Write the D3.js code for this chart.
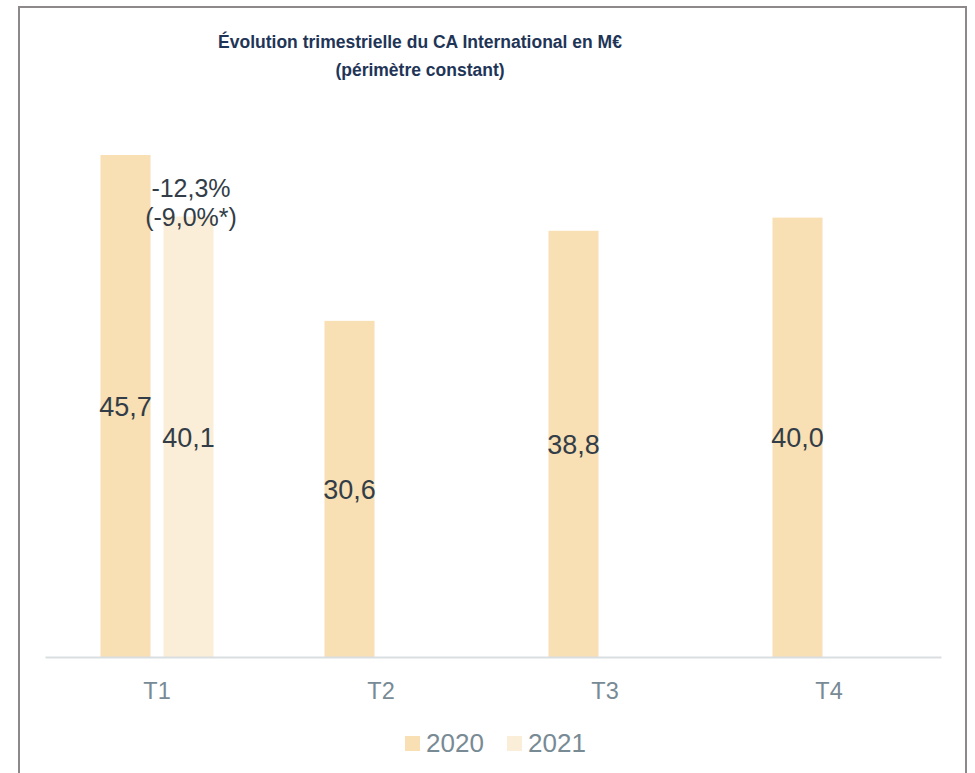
<!DOCTYPE html>
<html>
<head>
<meta charset="utf-8">
<script src="https://cdn.jsdelivr.net/npm/d3@7"></script>
<style>
  body { margin: 0; background: #fff; }
  svg { display: block; font-family: "Liberation Sans", Arial, sans-serif; }
</style>
</head>
<body>
<svg id="chart" width="975" height="773"></svg>
<script>
"use strict";

const quarters = ["T1", "T2", "T3", "T4"];
const years = ["2020", "2021"];
const values2020 = [45.7, 30.6, 38.8, 40.0];
const values2021 = [40.1, null, null, null];
const annotation = ["-12,3%", "(-9,0%*)"];

const colors = { "2020": "#f8dfb4", "2021": "#fbeed9" };

const svg = d3.select("#chart"),
    width = +svg.attr("width"),
    height = +svg.attr("height");

// Frame border (no bottom edge visible).
svg.append("path")
    .attr("d", "M19,773 V7 H966 V773")
    .attr("fill", "none")
    .attr("stroke", "#8d898a")
    .attr("stroke-width", 2);

// Title.
const title = svg.append("text")
    .attr("text-anchor", "middle")
    .attr("fill", "#1f3557")
    .attr("font-weight", "bold")
    .attr("font-size", 17.5);
title.append("tspan").attr("x", 420).attr("y", 48).text("Évolution trimestrielle du CA International en M€");
title.append("tspan").attr("x", 420).attr("y", 76).text("(périmètre constant)");

const margin = { left: 45, right: 34, bottom: 116 },
    baseline = height - margin.bottom;

const x = d3.scaleBand()
    .domain(quarters)
    .range([margin.left, width - margin.right]);

const xSub = d3.scaleBand()
    .domain(years)
    .range([0, 113])
    .paddingInner(0.206);

const y = d3.scaleLinear()
    .domain([0, 45.7])
    .range([baseline, 155]);

const rows = quarters.flatMap((q, i) => [
  { q, year: "2020", v: values2020[i] },
  { q, year: "2021", v: values2021[i] }
]).filter((d) => d.v != null);

const fmt = (v) => v.toFixed(1).replace(".", ",");
const barX = (d) => x(d.q) + (x.bandwidth() - 113) / 2 + xSub(d.year);

svg.append("g")
  .selectAll("rect")
  .data(rows)
  .enter().append("rect")
    .attr("x", barX)
    .attr("y", (d) => y(d.v))
    .attr("width", xSub.bandwidth())
    .attr("height", (d) => baseline - y(d.v))
    .attr("fill", (d) => colors[d.year]);

// Value labels in the middle of each bar.
svg.append("g")
  .selectAll("text")
  .data(rows)
  .enter().append("text")
    .attr("x", (d) => barX(d) + xSub.bandwidth() / 2)
    .attr("y", (d) => (y(d.v) + baseline) / 2 + 10)
    .attr("text-anchor", "middle")
    .attr("font-size", 27)
    .attr("fill", "#333d47")
    .text((d) => fmt(d.v));

// Growth annotation over T1.
const ann = svg.append("text")
    .attr("text-anchor", "middle")
    .attr("font-size", 25)
    .attr("fill", "#333d47");
annotation.forEach((t, i) => {
  ann.append("tspan")
      .attr("x", x("T1") + x.bandwidth() / 2 + 34)
      .attr("y", 197 + i * 29)
      .text(t);
});

// X axis.
const xAxis = svg.append("g")
    .attr("transform", "translate(0," + baseline + ")")
    .call(d3.axisBottom(x).tickSize(0).tickPadding(25));
xAxis.select(".domain").attr("stroke", "#d9dee1").attr("stroke-width", 2);
xAxis.selectAll("text")
    .attr("font-family", "Liberation Sans, Arial, sans-serif")
    .attr("font-size", 23.5)
    .attr("fill", "#788a94");

// Legend.
const legend = svg.append("g")
    .selectAll("g")
    .data(years)
    .enter().append("g")
    .attr("transform", (d, i) => "translate(" + (405 + i * 102) + ",736)");
legend.append("rect")
    .attr("width", 15)
    .attr("height", 15)
    .attr("fill", (d) => colors[d]);
legend.append("text")
    .attr("x", 21)
    .attr("y", 16)
    .attr("font-size", 26)
    .attr("fill", "#788a94")
    .text((d) => d);
</script>
</body>
</html>
